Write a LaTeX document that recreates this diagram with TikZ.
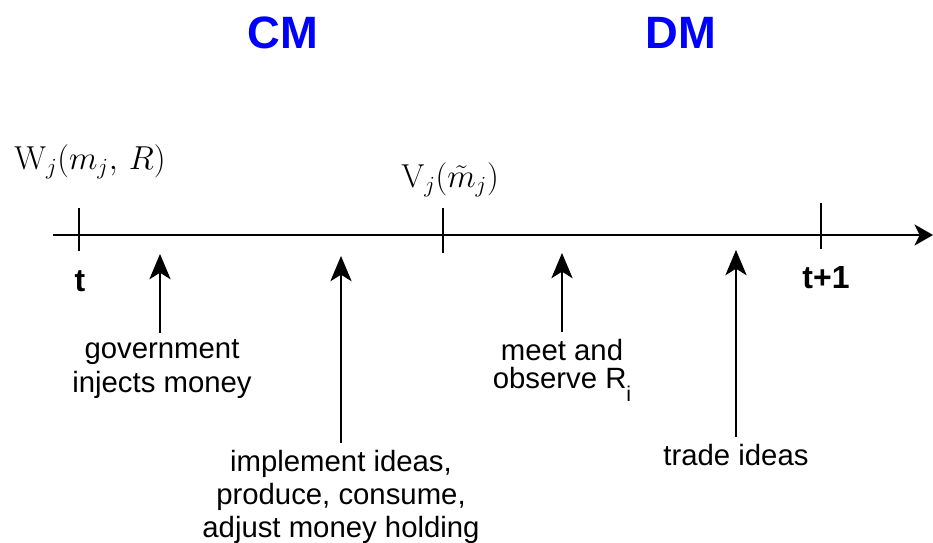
\documentclass[tikz,border=0pt]{standalone}
\usepackage[no-math]{fontspec}
\setmainfont{Liberation Sans}
\usepackage{amsmath}
\usetikzlibrary{arrows.meta}

\begin{document}
\begin{tikzpicture}
    [ x=0.75pt, y=-0.75pt
    , event/.style={font=\fontsize{22}{25}\selectfont, align=center, inner xsep=1pt, inner ysep=5pt}
    , market/.style={font=\fontsize{34}{36}\selectfont\bfseries, text=blue}
    , period/.style={font=\fontsize{24}{26}\selectfont\bfseries}
    , value/.style={font=\fontsize{26}{30}\selectfont, inner sep=0pt}
    , evarrow/.style={-{Stealth[length=19pt, width=16pt, inset=5pt]}, line width=0.8pt}
    , tick/.style={line width=0.8pt}
    ]
\useasboundingbox (0,0) rectangle (933,543);

% markets
\node[market] (cm) at (283,33) {CM};
\node[market] (dm) at (681,33) {DM};

% time line
\coordinate (start) at (53,235);
\coordinate (stop) at (933,235);
\draw[line width=0.8pt, -{Stealth[length=14pt, width=16pt, inset=4pt]}] (start) -- (stop);
\coordinate (ta) at (79,208);  \coordinate (tb) at (79,251);
\coordinate (va) at (443,208); \coordinate (vb) at (443,253);
\coordinate (ua) at (821,203); \coordinate (ub) at (821,249);
\draw[tick] (ta) -- (tb);
\draw[tick] (va) -- (vb);
\draw[tick] (ua) -- (ub);

\node[period] (t0) at (80,281) {t};
\node[period] (t1) at (826,278) {t+1};

% value functions
\node[value] (wlab) at (90,162) {$\mathrm{W}_j(m_j,\,R)$};
\node[value] (vlab) at (450,180) {$\mathrm{V}_j(\tilde{m}_j)$};

% events
\node[event, anchor=north] (gov) at (162,333) {government\\injects money};
\node[event, anchor=north] (impl) at (341,443) {implement ideas,\\produce, consume,\\adjust money holding};
\node[event, anchor=north, font=\fontsize{22}{21}\selectfont] (meet) at (562,332)
    {meet and\\observe R\raisebox{-10pt}{\fontsize{16}{16}\selectfont i}};
\node[event, anchor=north] (trade) at (736,437) {trade ideas};

\coordinate (govtip) at (160,254);
\coordinate (impltip) at (341,256);
\coordinate (meettip) at (562,253);
\coordinate (tradetip) at (736,250);
\draw[evarrow] (gov.north -| govtip) -- (govtip);
\draw[evarrow] (impl.north) -- (impltip);
\draw[evarrow] (meet.north) -- (meettip);
\draw[evarrow] (trade.north) -- (tradetip);
\end{tikzpicture}
\end{document}
